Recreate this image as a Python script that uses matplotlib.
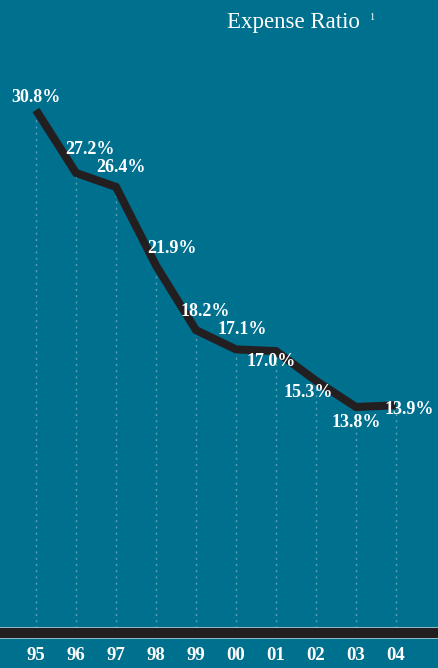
import matplotlib
matplotlib.use("Agg")
import matplotlib.pyplot as plt
from matplotlib.patches import Rectangle

years = ["95", "96", "97", "98", "99", "00", "01", "02", "03", "04"]
expense_ratio = [30.8, 27.2, 26.4, 21.9, 18.2, 17.1, 17.0, 15.3, 13.8, 13.9]
value_labels = ["30.8%", "27.2%", "26.4%", "21.9%", "18.2%", "17.1%", "17.0%", "15.3%", "13.8%", "13.9%"]

# label offsets in pixels (dx, dy up)
label_offsets = [(0, 13), (14, 23), (5, 19), (16, 17), (9, 19), (6, 20),
                 (-5, -10), (-8, -12), (0, -15), (13, -4)]

BG = "#00708F"
LINE = "#231F20"
DOT = "#5E9FB8"
W, H = 439, 668
DPI = 100

fig = plt.figure(figsize=(W / DPI, H / DPI), dpi=DPI, facecolor=BG)
ax = fig.add_axes([0, 40 / H, 1, 628 / H])
ax.set_facecolor(BG)
for s in ax.spines.values():
    s.set_visible(False)

x = list(range(len(years)))
ax.set_xlim(-0.9, W / 40 - 0.9)
ymin, ymax = 1.15, 37.1
ax.set_ylim(ymin, ymax)

ax.vlines(x, ymin, expense_ratio, colors=DOT, linestyles=(0, (1.5, 3)), linewidth=1.0, zorder=1)
ax.plot(x, expense_ratio, color=LINE, linewidth=5.8, solid_joinstyle="miter",
        solid_capstyle="butt", zorder=3)

for xi, yi, lab, (dx, dy) in zip(x, expense_ratio, value_labels, label_offsets):
    ax.annotate(lab, (xi, yi), xytext=(dx * 0.72, dy * 0.72), textcoords="offset points",
                ha="center", va="center", color="white", fontsize=13,
                fontfamily="Liberation Serif", fontweight="bold", zorder=4)

ax.set_yticks([])
ax.set_xticks(x)
ax.set_xticklabels(years, fontfamily="Liberation Serif", fontweight="bold",
                   fontsize=13.5, color="white")
ax.tick_params(axis="x", length=0, pad=14)

# bottom bar
fig.add_artist(Rectangle((0, (H - 639) / H), 1, 12 / H, transform=fig.transFigure,
                         facecolor="#8FB9C8", edgecolor="none", zorder=5))
fig.add_artist(Rectangle((0, (H - 637.5) / H), 1, 9.5 / H, transform=fig.transFigure,
                         facecolor=LINE, edgecolor="none", zorder=6))

fig.text(293.5 / W, (H - 28) / H, "Expense Ratio", ha="center", va="baseline",
         color="white", fontsize=16.5, fontfamily="Liberation Serif")
fig.text(371.5 / W, (H - 20) / H, "1", ha="center", va="baseline",
         color="white", fontsize=7.5, fontfamily="Liberation Serif")

fig.savefig("out.png", dpi=DPI, facecolor=BG)
